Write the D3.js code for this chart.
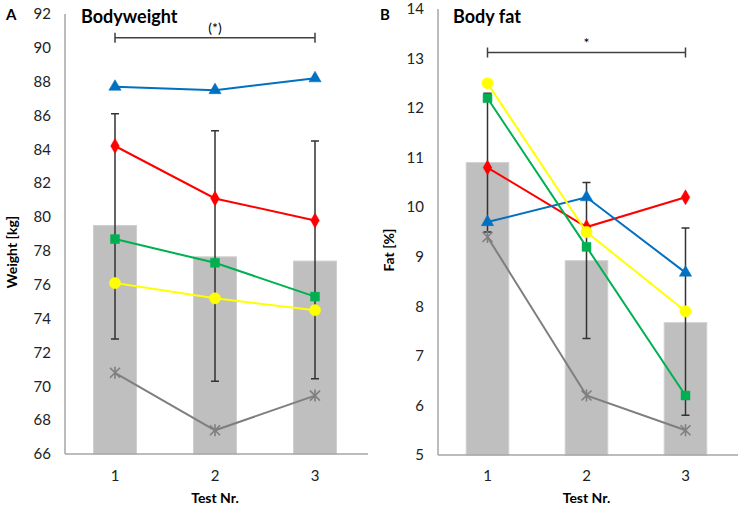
<!DOCTYPE html>
<html>
<head>
<meta charset="utf-8">
<script src="https://cdn.jsdelivr.net/npm/d3@7"></script>
<style>
  body { margin: 0; background: #fff; }
  text { font-family: Lato, "Open Sans", sans-serif; }
</style>
</head>
<body>
<svg id="chart" width="739" height="508"></svg>
<script>
// test numbers
var tests = [1, 2, 3];

// bodyweight [kg]
var weightMean = [79.5, 77.65, 77.4];
var weightHi = [86.1, 85.1, 84.5];
var weightLo = [72.8, 70.3, 70.45];
var weightBlue = [87.7, 87.5, 88.2];
var weightRed = [84.2, 81.1, 79.8];
var weightGreen = [78.7, 77.3, 75.3];
var weightYellow = [76.1, 75.2, 74.5];
var weightGray = [70.8, 67.4, 69.45];

// body fat [%]
var fatMean = [10.9, 8.92, 7.67];
var fatHi = [12.3, 10.5, 9.58];
var fatLo = [9.5, 7.35, 5.8];
var fatBlue = [9.7, 10.2, 8.68];
var fatRed = [10.8, 9.6, 10.2];
var fatGreen = [12.2, 9.2, 6.2];
var fatYellow = [12.5, 9.5, 7.9];
var fatGray = [9.4, 6.2, 5.5];

var weightTicks = [66, 68, 70, 72, 74, 76, 78, 80, 82, 84, 86, 88, 90, 92];
var fatTicks = [5, 6, 7, 8, 9, 10, 11, 12, 13, 14];

var svg = d3.select("#chart");

function drawPanel(o) {
    var x = d3.scaleBand().domain(tests).range([o.left, o.right]);
    var y = d3.scaleLinear().domain(o.domain).range([o.bottom, o.top]);
    var cx = d => x(d) + x.bandwidth() / 2;
    var g = svg.append("g");

    // bars
    g.selectAll("rect.bar")
        .data(o.mean)
        .join("rect")
        .attr("x", (d, i) => cx(tests[i]) - x.bandwidth() * 0.215)
        .attr("width", x.bandwidth() * 0.43)
        .attr("y", d => y(d))
        .attr("height", d => o.bottom - y(d))
        .attr("fill", "#bfbfbf")
        .attr("stroke", "#cfcfcf")
        .attr("stroke-width", 1);

    // axis lines
    g.append("line")
        .attr("x1", o.left).attr("x2", o.left)
        .attr("y1", o.top).attr("y2", o.bottom)
        .attr("stroke", "#a6a6a6").attr("stroke-width", 1.5);
    g.append("line")
        .attr("x1", o.left).attr("x2", o.right + 3)
        .attr("y1", o.bottom).attr("y2", o.bottom)
        .attr("stroke", "#a6a6a6").attr("stroke-width", 1.5);

    // tick labels
    g.selectAll("text.ytick")
        .data(o.ticks)
        .join("text")
        .attr("x", o.left - 14)
        .attr("y", d => y(d))
        .attr("dy", "0.35em")
        .attr("text-anchor", "end")
        .style("font-size", "15px")
        .style("fill", "#222")
        .text(d => d);
    g.selectAll("text.xtick")
        .data(tests)
        .join("text")
        .attr("x", d => cx(d))
        .attr("y", 481)
        .attr("text-anchor", "middle")
        .style("font-size", "15px")
        .style("fill", "#222")
        .text(d => d);

    // axis titles
    g.append("text")
        .attr("x", cx(2))
        .attr("y", 503)
        .attr("text-anchor", "middle")
        .style("font-size", "14px")
        .style("font-weight", "bold")
        .text("Test Nr.");
    g.append("text")
        .attr("transform", `translate(${o.ytitleX},${o.ytitleY}) rotate(-90)`)
        .attr("text-anchor", "middle")
        .style("font-size", "14px")
        .style("font-weight", "bold")
        .text(o.ytitle);

    // panel letter + title
    g.append("text")
        .attr("x", o.letterX).attr("y", 20)
        .style("font-size", "15px").style("font-weight", "bold")
        .text(o.letter);
    g.append("text")
        .attr("x", o.titleX).attr("y", 23)
        .style("font-size", "18px").style("font-weight", "bold")
        .text(o.title);

    // significance bracket
    var by = y(o.bracket);
    g.append("path")
        .attr("d", `M${cx(1)},${by - 5}v10M${cx(1)},${by}H${cx(3)}M${cx(3)},${by - 5}v10`)
        .attr("fill", "none").attr("stroke", "#404040").attr("stroke-width", 1.5);
    g.append("text")
        .attr("x", cx(2)).attr("y", by - 5)
        .attr("text-anchor", "middle")
        .style("font-size", "14px")
        .text(o.sig);

    // error bars
    var eb = g.append("g").attr("stroke", "#333").attr("stroke-width", 1.5).attr("fill", "none");
    tests.forEach(function(t, i) {
        eb.append("path")
            .attr("d", `M${cx(t)},${y(o.hi[i])}V${y(o.lo[i])}M${cx(t) - 4},${y(o.hi[i])}h8M${cx(t) - 4},${y(o.lo[i])}h8`);
    });

    // individual subjects
    var line = d3.line().x((d, i) => cx(tests[i])).y(d => y(d));
    o.series.forEach(function(s) {
        g.append("path")
            .attr("d", line(s.values))
            .attr("fill", "none")
            .attr("stroke", s.color)
            .attr("stroke-width", 2);
        g.selectAll(null)
            .data(s.values)
            .join("path")
            .attr("transform", (d, i) => `translate(${cx(tests[i])},${y(d)})`)
            .attr("d", s.shape === "cross"
                ? "M-5,-5L5,5M-5,5L5,-5M0,-6V6"
                : d3.symbol().type(s.shape).size(s.size)())
            .attr("fill", s.shape === "cross" ? "none" : s.color)
            .attr("stroke", s.color)
            .attr("stroke-width", s.shape === "cross" ? 1.6 : 0.5);
    });
}

drawPanel({
    left: 65, right: 365, top: 14, bottom: 454,
    domain: [66, 92], ticks: weightTicks,
    mean: weightMean, hi: weightHi, lo: weightLo,
    ytitle: "Weight [kg]", ytitleX: 17, ytitleY: 252,
    letter: "A", letterX: 6, title: "Bodyweight", titleX: 81,
    bracket: 90.6, sig: "(*)",
    series: [
        {values: weightGray, color: "#7f7f7f", shape: "cross"},
        {values: weightYellow, color: "#ffff00", shape: d3.symbolCircle, size: 100},
        {values: weightGreen, color: "#00b050", shape: d3.symbolSquare, size: 80},
        {values: weightRed, color: "#ff0000", shape: d3.symbolDiamond, size: 65},
        {values: weightBlue, color: "#0070c0", shape: d3.symbolTriangle, size: 65}
    ]
});

drawPanel({
    left: 438, right: 735, top: 9, bottom: 455,
    domain: [5, 14], ticks: fatTicks,
    mean: fatMean, hi: fatHi, lo: fatLo,
    ytitle: "Fat [%]", ytitleX: 394, ytitleY: 250,
    letter: "B", letterX: 380, title: "Body fat", titleX: 453,
    bracket: 13.12, sig: "*",
    series: [
        {values: fatGray, color: "#7f7f7f", shape: "cross"},
        {values: fatRed, color: "#ff0000", shape: d3.symbolDiamond, size: 65},
        {values: fatBlue, color: "#0070c0", shape: d3.symbolTriangle, size: 65},
        {values: fatGreen, color: "#00b050", shape: d3.symbolSquare, size: 80},
        {values: fatYellow, color: "#ffff00", shape: d3.symbolCircle, size: 100}
    ]
});
</script>
</body>
</html>
